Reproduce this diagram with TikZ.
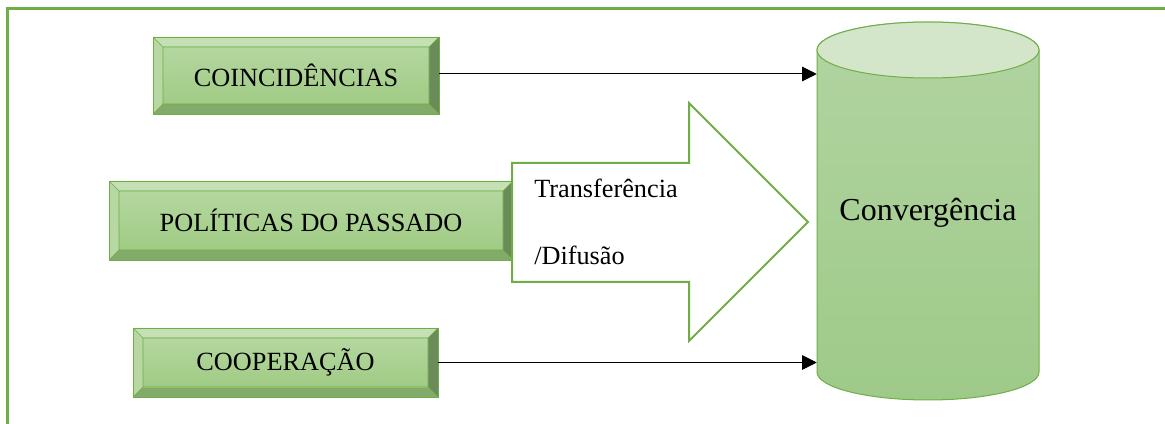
\documentclass[tikz,border=0pt]{standalone}
\usepackage{fontspec}
\setmainfont{Liberation Serif}
\usetikzlibrary{calc,arrows.meta}
\definecolor{gline}{HTML}{70AD47}
\definecolor{btop}{HTML}{C6E0B5}
\definecolor{bleft}{HTML}{B7D8A2}
\definecolor{bright}{HTML}{6B8C59}
\definecolor{bbot}{HTML}{82AA68}
\definecolor{facetop}{HTML}{B4D7A0}
\definecolor{facebot}{HTML}{A0CB84}
\definecolor{cyltop}{HTML}{D3E6CA}
\definecolor{cylbodyA}{HTML}{B2D4A1}
\definecolor{cylbodyB}{HTML}{9ECA89}
\def\pxu{0.75pt}
\tikzset{
  bevelbox/.style={draw=gline, line width=0.6pt, inner sep=0pt,
    font=\fontsize{19.7}{23}\selectfont,
    path picture={
      \path (path picture bounding box.north west) coordinate (bva)
            (path picture bounding box.north east) coordinate (bvb)
            (path picture bounding box.south east) coordinate (bvc)
            (path picture bounding box.south west) coordinate (bvd);
      \path ($(bva)+(10,10)$) coordinate (bvA)
            ($(bvb)+(-10,10)$) coordinate (bvB)
            ($(bvc)+(-10,-10)$) coordinate (bvC)
            ($(bvd)+(10,-10)$) coordinate (bvD);
      \fill[btop] (bva)--(bvb)--(bvB)--(bvA)--cycle;
      \fill[bleft] (bva)--(bvA)--(bvD)--(bvd)--cycle;
      \fill[bright] (bvb)--(bvc)--(bvC)--(bvB)--cycle;
      \fill[bbot] (bvd)--(bvD)--(bvC)--(bvc)--cycle;
      \shade[top color=facetop, bottom color=facebot] (bvA) rectangle (bvC);
      \draw[gline, line width=0.5pt] (bva)--(bvA) (bvb)--(bvB) (bvc)--(bvC) (bvd)--(bvD) (bvA) rectangle (bvC);
    }},
  conn/.style={-{Triangle[length=11pt,width=11pt]}, line width=0.75pt, black},
  lbl/.style={font=\fontsize{19.7}{23}\selectfont, inner sep=0pt},
}
\begin{document}
\begin{tikzpicture}[x=0.75pt,y=-0.75pt]
\useasboundingbox (0,0) rectangle (1165,424);
% frame
\draw[gline, line width=2.25pt] (7,425) -- (7,9) -- (1166,9);
% cylinder
\node[minimum width=222*\pxu, minimum height=378*\pxu, inner sep=0pt] (cyl) at (928,211) {};
\shade[top color=cylbodyA, bottom color=cylbodyB, draw=gline, line width=0.75pt]
  (817,50) -- (817,372) arc[start angle=180, end angle=0, x radius=111, y radius=28]
  -- (1039,50) arc[start angle=0, end angle=-180, x radius=111, y radius=28] -- cycle;
\draw[gline, line width=0.75pt, fill=cyltop] (928,50) ellipse[x radius=111, y radius=28];
\node[font=\fontsize{24}{28}\selectfont, inner sep=0pt, anchor=base] (conv) at (928,221) {Convergência};
% boxes
\node[bevelbox, minimum width=286*\pxu, minimum height=77*\pxu] (coin) at (296,75.5) {COINCIDÊNCIAS};
\node[bevelbox, minimum width=404*\pxu, minimum height=79*\pxu] (pol) at (311,220.5) {POLÍTICAS DO PASSADO};
\node[bevelbox, minimum width=305*\pxu, minimum height=69*\pxu] (coop) at (285.5,362.5) {COOPERAÇÃO};
% big arrow
\draw[gline, line width=1.5pt, fill=white, line join=miter]
  (512,163) -- (689,163) -- (689,103) -- (808,222) -- (689,341) -- (689,282) -- (512,282) -- cycle;
\node[lbl, anchor=base west] (t1) at (534,198) {Transferência};
\node[lbl, anchor=base west] (t2) at (534,265) {/Difusão};
% connectors
\draw[conn] (coin.east) ++(0,-1.5) coordinate (ca) -- (ca -| cyl.west);
\draw[conn] (coop.east) -- (coop.east -| cyl.west);
\end{tikzpicture}
\end{document}
